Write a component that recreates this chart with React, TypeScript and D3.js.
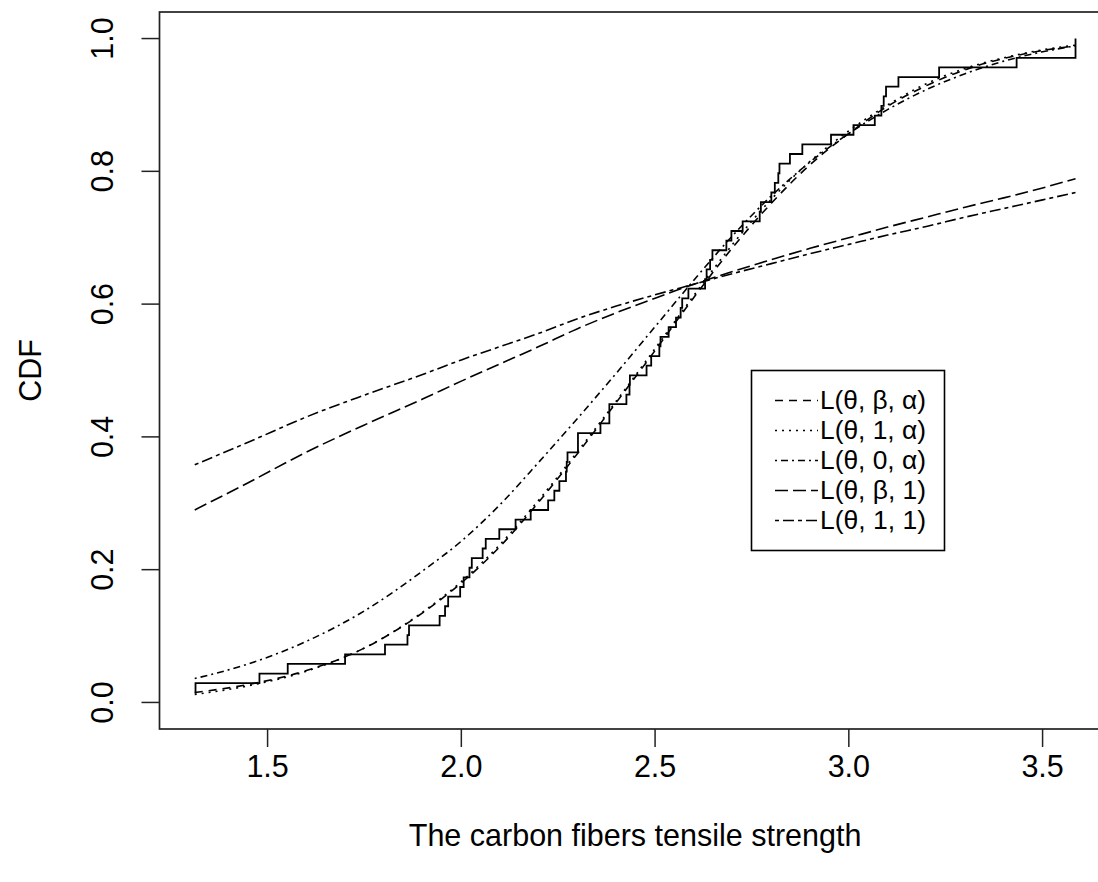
import React, { useEffect, useRef } from 'react';
import * as d3 from 'd3';

// carbon fibre tensile strengths (step curve)
const strength = [
  1.312, 1.314, 1.479, 1.552, 1.7, 1.803, 1.861, 1.865, 1.944, 1.958, 1.966, 1.997,
  2.006, 2.021, 2.027, 2.055, 2.063, 2.098, 2.14, 2.179, 2.224, 2.24, 2.253, 2.27,
  2.272, 2.274, 2.301, 2.301, 2.359, 2.382, 2.382, 2.426, 2.434, 2.435, 2.478, 2.49,
  2.511, 2.514, 2.535, 2.554, 2.566, 2.57, 2.586, 2.629, 2.633, 2.642, 2.648, 2.684,
  2.697, 2.726, 2.77, 2.773, 2.8, 2.809, 2.818, 2.821, 2.848, 2.88, 2.954, 3.012,
  3.067, 3.084, 3.09, 3.096, 3.128, 3.233, 3.433, 3.585, 3.585,
];

// x positions where the fitted CDFs were read
const gridX = [1.312, 1.45, 1.6, 1.75, 1.9, 2.0, 2.1, 2.2, 2.3, 2.4, 2.5, 2.6, 2.7, 2.8, 2.9, 3.0, 3.1, 3.2, 3.3, 3.4, 3.5, 3.585];

const cdfThetaBetaAlpha = [0.015, 0.027, 0.048, 0.082, 0.135, 0.18, 0.235, 0.302, 0.375, 0.452, 0.53, 0.61, 0.685, 0.752, 0.81, 0.857, 0.898, 0.929, 0.953, 0.97, 0.982, 0.989];
const cdfTheta1Alpha = [0.012, 0.025, 0.047, 0.082, 0.136, 0.182, 0.238, 0.305, 0.378, 0.454, 0.533, 0.613, 0.69, 0.758, 0.815, 0.861, 0.9, 0.932, 0.955, 0.971, 0.983, 0.99];
const cdfTheta0Alpha = [0.036, 0.058, 0.092, 0.138, 0.198, 0.243, 0.298, 0.362, 0.428, 0.496, 0.566, 0.636, 0.703, 0.763, 0.814, 0.857, 0.893, 0.923, 0.947, 0.966, 0.98, 0.989];
const cdfThetaBeta1 = [0.29, 0.331, 0.377, 0.418, 0.457, 0.484, 0.51, 0.536, 0.563, 0.587, 0.609, 0.63, 0.649, 0.667, 0.684, 0.7, 0.716, 0.731, 0.746, 0.76, 0.775, 0.789];
const cdfTheta11 = [0.358, 0.392, 0.43, 0.463, 0.494, 0.516, 0.536, 0.556, 0.578, 0.597, 0.614, 0.63, 0.646, 0.661, 0.676, 0.69, 0.704, 0.717, 0.731, 0.744, 0.757, 0.768];

const legendLabels = ['L(θ, β, α)', 'L(θ, 1, α)', 'L(θ, 0, α)', 'L(θ, β, 1)', 'L(θ, 1, 1)'];
const xTicks = [1.5, 2.0, 2.5, 3.0, 3.5];
const yTicks = [0.0, 0.2, 0.4, 0.6, 0.8, 1.0];

const W = 1098;
const H = 882;
const FONT = "'Liberation Sans', Arial, sans-serif";

export default function App() {
  const svgRef = useRef<SVGSVGElement>(null);

  useEffect(() => {
    const svg = d3.select(svgRef.current);
    svg.selectAll('*').remove();

    const left = 159.5, top = 12, bottom = 729;
    const [lo, hi] = d3.extent(strength) as [number, number];
    const pad = (hi - lo) * 0.04;
    const x = d3.scaleLinear().domain([lo - pad, hi + pad]).range([left, left + (hi - lo + 2 * pad) * 387.5]);
    const y = d3.scaleLinear().domain([-0.04, 1.04]).range([bottom, top]);

    // curves
    const dashes = ['8,6', '2,5', '2,4,7,4', '13,5', '4,4,11,4'];
    const series = [cdfThetaBetaAlpha, cdfTheta1Alpha, cdfTheta0Alpha, cdfThetaBeta1, cdfTheta11];
    const curve = d3.line<number>()
      .x((_, i) => x(gridX[i]))
      .y(d => y(d))
      .curve(d3.curveMonotoneX);

    series.forEach((s, k) => {
      svg.append('path')
        .attr('d', curve(s))
        .attr('fill', 'none')
        .attr('stroke', '#000')
        .attr('stroke-width', 1.6)
        .attr('stroke-dasharray', dashes[k]);
    });

    // empirical CDF as steps
    const n = strength.length;
    const step = d3.line<number>()
      .x(d => x(d))
      .y((_, i) => y((i + 1) / n))
      .curve(d3.curveStepAfter);
    svg.append('path')
      .attr('d', step(strength))
      .attr('fill', 'none')
      .attr('stroke', '#000')
      .attr('stroke-width', 1.8);

    // box
    svg.append('rect')
      .attr('x', left).attr('y', top)
      .attr('width', x.range()[1] - left).attr('height', bottom - top)
      .attr('fill', 'none').attr('stroke', '#222').attr('stroke-width', 1.7);

    // x axis
    xTicks.forEach(t => {
      svg.append('line')
        .attr('x1', x(t)).attr('x2', x(t))
        .attr('y1', bottom).attr('y2', bottom + 18)
        .attr('stroke', '#222').attr('stroke-width', 1.5);
      svg.append('text')
        .attr('x', x(t)).attr('y', 777)
        .attr('text-anchor', 'middle')
        .style('font-family', FONT).style('font-size', '30.5px')
        .text(t.toFixed(1));
    });

    // y axis
    yTicks.forEach(t => {
      svg.append('line')
        .attr('x1', left - 18).attr('x2', left)
        .attr('y1', y(t)).attr('y2', y(t))
        .attr('stroke', '#222').attr('stroke-width', 1.5);
      svg.append('text')
        .attr('transform', `translate(112.5,${y(t)}) rotate(-90)`)
        .attr('text-anchor', 'middle')
        .style('font-family', FONT).style('font-size', '30.5px')
        .text(t.toFixed(1));
    });

    svg.append('text')
      .attr('x', (left + x.range()[1]) / 2).attr('y', 846)
      .attr('text-anchor', 'middle')
      .style('font-family', FONT).style('font-size', '30.5px')
      .text('The carbon fibers tensile strength');

    svg.append('text')
      .attr('transform', `translate(40.5,${(top + bottom) / 2}) rotate(-90)`)
      .attr('text-anchor', 'middle')
      .style('font-family', FONT).style('font-size', '30.5px')
      .text('CDF');

    // legend
    const lg = svg.append('g');
    lg.append('rect')
      .attr('x', 751.5).attr('y', 370.5).attr('width', 193).attr('height', 180)
      .attr('fill', '#fff').attr('stroke', '#000').attr('stroke-width', 1.6);
    legendLabels.forEach((lab, i) => {
      const ly = 400.5 + i * 30;
      lg.append('line')
        .attr('x1', 775).attr('x2', 818).attr('y1', ly).attr('y2', ly)
        .attr('stroke', '#000').attr('stroke-width', 1.6)
        .attr('stroke-dasharray', dashes[i]);
      lg.append('text')
        .attr('x', 820).attr('y', ly + 8.5)
        .attr('textLength', 106).attr('lengthAdjust', 'spacingAndGlyphs')
        .style('font-family', FONT).style('font-size', '25px')
        .text(lab);
    });
  }, []);

  return (
    <svg ref={svgRef} width={W} height={H}
      style={{ position: 'absolute', left: 0, top: 0, background: '#fff' }} />
  );
}
